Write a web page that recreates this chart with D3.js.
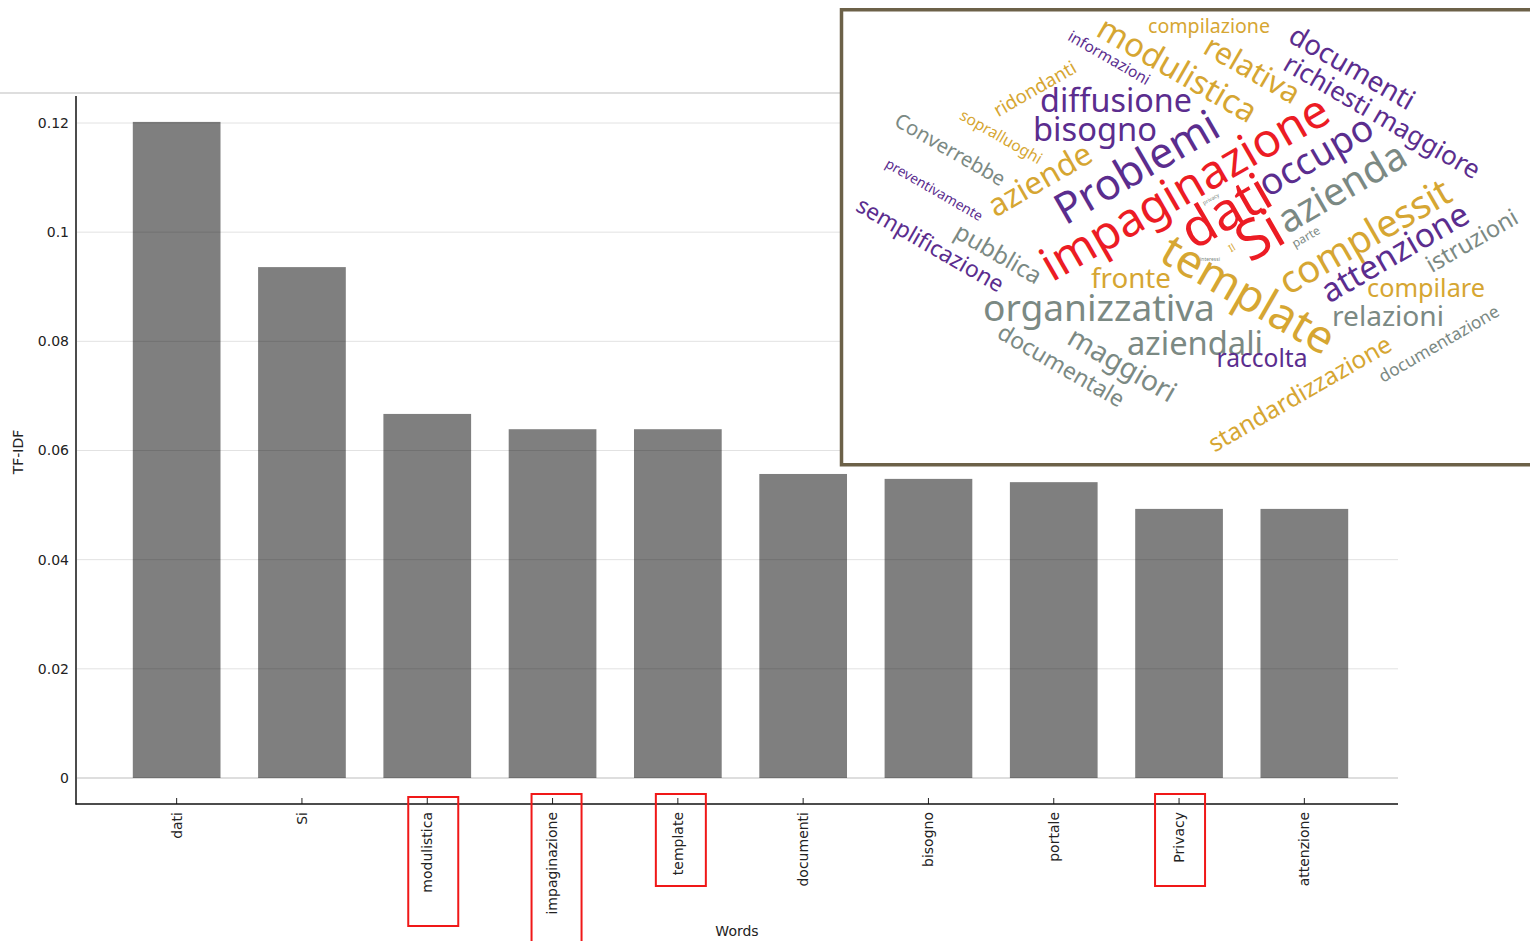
<!DOCTYPE html>
<html>
<head>
<meta charset="utf-8">
<script src="https://cdn.jsdelivr.net/npm/d3@7"></script>
<style>
  body { margin: 0; background: #fff; }
  svg { display: block; }
</style>
</head>
<body>
<script>
// bar chart data
var categories = ["dati", "Si", "modulistica", "impaginazione", "template", "documenti", "bisogno", "portale", "Privacy", "attenzione"];
var tfidf = [0.1202, 0.0936, 0.0667, 0.0639, 0.0639, 0.0557, 0.0548, 0.0542, 0.0493, 0.0493];
var yTicks = [0, 0.02, 0.04, 0.06, 0.08, 0.1, 0.12];

// highlighted words (red boxes): category, top, bottom
var boxed = ["modulistica", "impaginazione", "template", "Privacy"];
var boxTop = [797, 794, 794, 794];
var boxBottom = [926, 945, 886, 886];
var boxShift = [6, 4, 3, 1];

// word cloud inset
var cloudWords = ["compilazione", "informazioni", "modulistica", "relativa", "documenti", "richiesti maggiore",
  "ridondanti", "diffusione", "bisogno", "sopralluoghi", "Converrebbe", "aziende", "Problemi", "impaginazione",
  "preventivamente", "semplificazione", "pubblica", "occupo", "dati", "azienda", "Si", "template", "complessit",
  "attenzione", "istruzioni", "parte", "fronte", "organizzativa", "compilare", "relazioni", "aziendali",
  "documentale", "maggiori", "raccolta", "standardizzazione", "documentazione", "Il", "interessi", "privacy"];
// 0 purple, 1 gold, 2 grey, 3 red
var cloudGroup = [1, 0, 1, 1, 0, 0,
  1, 0, 0, 1, 2, 1, 0, 3,
  0, 0, 2, 0, 3, 2, 3, 1, 1,
  0, 2, 2, 1, 2, 1, 2, 2,
  2, 2, 0, 1, 2, 1, 2, 2];
var cloudPalette = ["#5b2d8e", "#d6a632", "#7b8983", "#ec1c24"];
// layout: centre x, centre y, angle, length along baseline
var cloudLayout = [
  [1209, 27, 0, 122], [1109, 58, 30, 92], [1177, 70, 30, 178], [1252, 70, 30, 105], [1352, 68, 30, 140], [1382, 117, 30, 222],
  [1035, 89, -30, 92], [1116, 101, 0, 152], [1095, 130, 0, 124], [1001, 137, 30, 92], [950, 150, 30, 124], [1040, 180, -30, 115],
  [1137, 168, -30, 182], [1185, 188, -30, 325], [934, 190, 30, 110], [930, 245, 30, 166], [998, 254, 30, 96], [1316, 156, -30, 126],
  [1226, 212, -30, 95], [1342, 188, -30, 142], [1260, 236, -30, 45], [1248, 295, 30, 192], [1365, 237, -30, 192], [1395, 253, -30, 165],
  [1472, 241, -30, 102], [1306, 237, -30, 30], [1131, 279, 0, 80], [1099, 309, 0, 232], [1426, 289, 0, 118], [1388, 317, 0, 112],
  [1195, 344, 0, 136], [1061, 366, 30, 142], [1122, 365, 30, 120], [1262, 359, 0, 91], [1300, 394, -30, 207], [1439, 344, -30, 136],
  [1232, 248, -30, 6], [1210, 259, 0, 20], [1211, 199, -30, 18]
];

var W = 1530, H = 941;
var axisFont = "DejaVu Sans, Verdana, sans-serif";

var svg = d3.select("body")
    .append("svg")
    .attr("width", W)
    .attr("height", H);

var x = d3.scaleBand()
    .domain(categories)
    .range([114, 1367])
    .paddingInner(0.3)
    .paddingOuter(0.15);

var y = d3.scaleLinear()
    .domain([0, 0.12])
    .range([778, 123]);

// top border line of plot area
svg.append("line")
    .attr("x1", 0).attr("x2", 1398)
    .attr("y1", 93).attr("y2", 93)
    .attr("stroke", "#dedede")
    .attr("stroke-width", 2);

// gridlines
svg.selectAll("line.grid")
    .data(yTicks)
    .enter()
    .append("line")
    .attr("class", "grid")
    .attr("x1", 77).attr("x2", 1398)
    .attr("y1", function(d){ return y(d); })
    .attr("y2", function(d){ return y(d); })
    .attr("stroke", function(d){ return d === 0 ? "#bdbdbd" : "#e2e2e2"; })
    .attr("stroke-width", 1);

// bars
svg.selectAll("rect.bar")
    .data(tfidf)
    .enter()
    .append("rect")
    .attr("class", "bar")
    .attr("x", function(d, i){ return x(categories[i]); })
    .attr("width", x.bandwidth())
    .attr("y", function(d){ return y(d); })
    .attr("height", function(d){ return y(0) - y(d); })
    .attr("fill", "#000")
    .attr("fill-opacity", 0.5);

// y axis labels
var yAxis = svg.append("g")
    .attr("transform", "translate(76,0)")
    .call(d3.axisLeft(y).tickValues(yTicks).tickSize(0).tickPadding(7)
        .tickFormat(function(d){ return String(+d.toFixed(2)); }));
yAxis.select(".domain").remove();
yAxis.selectAll("text")
    .attr("font-family", axisFont)
    .attr("font-size", 14)
    .attr("fill", "#222");

// x axis
var xAxis = svg.append("g")
    .attr("transform", "translate(0,804)")
    .call(d3.axisBottom(x).tickSize(-6));
xAxis.select(".domain").remove();
xAxis.selectAll(".tick line").attr("stroke", "#222");
xAxis.selectAll("text")
    .attr("transform", "rotate(-90)")
    .attr("x", -8)
    .attr("y", 0)
    .attr("dy", "0.35em")
    .style("text-anchor", "end")
    .attr("font-family", axisFont)
    .attr("font-size", 14)
    .attr("fill", "#222");

// axis lines
svg.append("line")
    .attr("x1", 76).attr("x2", 76).attr("y1", 96).attr("y2", 804.5)
    .attr("stroke", "#111").attr("stroke-width", 1.5);
svg.append("line")
    .attr("x1", 75.5).attr("x2", 1398).attr("y1", 804).attr("y2", 804)
    .attr("stroke", "#111").attr("stroke-width", 1.5);

// axis titles
svg.append("text")
    .attr("transform", "translate(18,452) rotate(-90)")
    .attr("text-anchor", "middle")
    .attr("dy", "0.35em")
    .attr("font-family", axisFont)
    .attr("font-size", 14)
    .attr("fill", "#222")
    .text("TF-IDF");

svg.append("text")
    .attr("x", 737).attr("y", 931)
    .attr("text-anchor", "middle")
    .attr("dy", "0.35em")
    .attr("font-family", axisFont)
    .attr("font-size", 14)
    .attr("fill", "#222")
    .text("Words");

// red highlight boxes
svg.selectAll("rect.hl")
    .data(boxed)
    .enter()
    .append("rect")
    .attr("class", "hl")
    .attr("x", function(d, i){ return x(d) + x.bandwidth() / 2 + boxShift[i] - 25; })
    .attr("width", 50)
    .attr("y", function(d, i){ return boxTop[i]; })
    .attr("height", function(d, i){ return boxBottom[i] - boxTop[i]; })
    .attr("fill", "none")
    .attr("stroke", "#f01818")
    .attr("stroke-width", 2);

// word cloud inset
var cloud = svg.append("g");
cloud.append("rect")
    .attr("x", 841.5).attr("y", 9.75)
    .attr("width", 720).attr("height", 455)
    .attr("fill", "#fff")
    .attr("stroke", "#6c6148")
    .attr("stroke-width", 3.5);

var cloudFont = "Noto Sans, Open Sans, sans-serif";
cloud.selectAll("text.w")
    .data(cloudWords)
    .enter()
    .append("text")
    .attr("class", "w")
    .attr("font-family", cloudFont)
    .attr("font-size", 100)
    .attr("text-anchor", "middle")
    .attr("dy", "0.33em")
    .attr("fill", function(d, i){ return cloudPalette[cloudGroup[i]]; })
    .text(function(d){ return d; })
    .each(function(d, i){
        var lay = cloudLayout[i];
        var len = this.getComputedTextLength();
        var fs = len > 0 ? 100 * lay[3] / len : 20;
        d3.select(this)
            .attr("font-size", fs)
            .attr("transform", "translate(" + lay[0] + "," + lay[1] + ") rotate(" + lay[2] + ")");
    });
</script>
</body>
</html>
